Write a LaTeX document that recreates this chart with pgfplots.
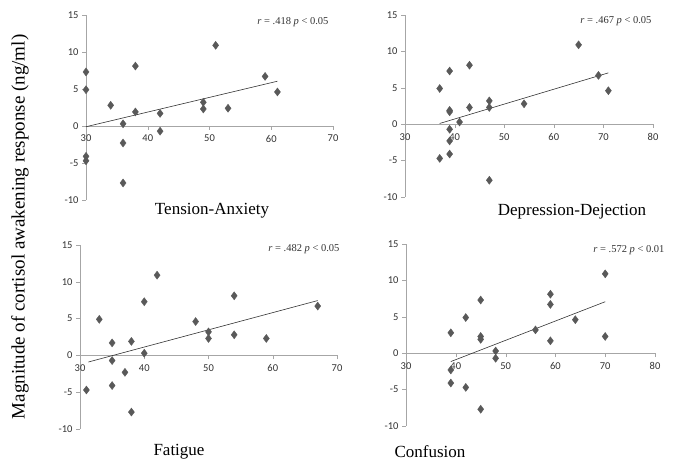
\documentclass[border=0pt]{standalone}
\usepackage{pgfplots}
\pgfplotsset{compat=1.18}
\usepackage{fontspec}
\setmainfont{Liberation Serif}
\newfontfamily\tickfont{Carlito}

\definecolor{mk}{HTML}{595959}
\definecolor{axl}{HTML}{A6A6A6}
\definecolor{tl}{HTML}{333333}

\pgfplotstableread{
x y
30 7.3
30 4.9
34 2.8
38 8.1
38 1.9
36 0.3
42 1.7
42 -0.7
49 3.2
49 2.3
51 10.9
53 2.4
59 6.7
61 4.6
36 -2.3
30 -4.1
30 -4.7
36 -7.7
}\tensiondata

\pgfplotstableread{
x y
37 4.9
39 7.3
43 8.1
39 1.9
39 1.7
41 0.3
43 2.3
47 3.2
47 2.3
54 2.8
65 10.9
69 6.7
71 4.6
39 -0.7
39 -2.3
39 -4.1
37 -4.7
47 -7.7
}\depressiondata

\pgfplotstableread{
x y
33 4.9
35 1.7
35 -0.7
35 -4.1
37 -2.3
38 1.9
38 -7.7
31 -4.7
40 7.3
40 0.3
42 10.9
48 4.6
50 3.2
50 2.3
54 8.1
54 2.8
59 2.3
67 6.7
}\fatiguedata

\pgfplotstableread{
x y
39 2.8
39 -2.3
39 -4.1
42 4.9
42 -4.7
45 7.3
45 2.3
45 1.9
45 -7.7
48 0.3
48 -0.7
56 3.2
59 8.1
59 6.7
59 1.7
64 4.6
70 10.9
70 2.3
}\confusiondata

\pgfplotsset{
 panel/.style={
  scale only axis,
  axis x line=middle, axis y line=left,
  axis line style={-, axl},
  hide obscured x ticks=false, hide obscured y ticks=false,
  ymin=-10, ymax=15, ytick={-10,-5,0,5,10,15},
  tick align=outside,
  major tick length=4pt,
  tick style={axl},
  every tick label/.append style={font=\tickfont\fontsize{10.5}{12}\selectfont, text=tl},
  xticklabel style={yshift=-1.5pt},
  /pgf/number format/assume math mode=true,
  clip=false,
  anchor=south west,
 },
 pts/.style={only marks, mark=diamond*, mark size=4pt, color=mk},
 fit/.style={no marks, tl, line width=0.6pt},
}

\begin{document}
\begin{tikzpicture}
\useasboundingbox (0pt,0pt) rectangle (685pt,473pt);

% Tension-Anxiety
\begin{axis}[panel, at={(86pt,273pt)}, width=247pt, height=185pt,
  xmin=30, xmax=70, xtick={30,40,50,60,70}]
  \addplot[pts] table {\tensiondata};
  \addplot[fit] coordinates {(30,-0.1) (61,6.05)};
\end{axis}

% Depression-Dejection
\begin{axis}[panel, at={(405pt,276pt)}, width=248pt, height=182pt,
  xmin=30, xmax=80, xtick={30,40,50,60,70,80}]
  \addplot[pts] table {\depressiondata};
  \addplot[fit] coordinates {(37,0.1) (71,7.05)};
\end{axis}

% Fatigue
\begin{axis}[panel, at={(80pt,44pt)}, width=257pt, height=184pt,
  xmin=30, xmax=70, xtick={30,40,50,60,70}]
  \addplot[pts] table {\fatiguedata};
  \addplot[fit] coordinates {(31.3,-0.9) (67,7.45)};
\end{axis}

% Confusion
\begin{axis}[panel, at={(406pt,47pt)}, width=249pt, height=182pt,
  xmin=30, xmax=80, xtick={30,40,50,60,70,80}]
  \addplot[pts] table {\confusiondata};
  \addplot[fit] coordinates {(39,-1.15) (70,7.07)};
\end{axis}

% panel titles
\node[font=\fontsize{17}{20}\selectfont] at (212pt,262pt) {Tension-Anxiety};
\node[font=\fontsize{17}{20}\selectfont] at (572pt,261pt) {Depression-Dejection};
\node[font=\fontsize{17}{20}\selectfont] at (179pt,21pt) {Fatigue};
\node[font=\fontsize{17}{20}\selectfont] at (430pt,21pt) {Confusion};

% correlations
\node[anchor=east, font=\fontsize{10.5}{12}\selectfont, text=tl] at (332pt,451pt) {\textit{r} = .418 \textit{p} < 0.05};
\node[anchor=east, font=\fontsize{10.5}{12}\selectfont, text=tl] at (655pt,452pt) {\textit{r} = .467 \textit{p} < 0.05};
\node[anchor=east, font=\fontsize{10.5}{12}\selectfont, text=tl] at (343pt,224pt) {\textit{r} = .482 \textit{p} < 0.05};
\node[anchor=east, font=\fontsize{10.5}{12}\selectfont, text=tl] at (668pt,223pt) {\textit{r} = .572 \textit{p} < 0.01};

% y label
\node[rotate=90, font=\fontsize{19}{22}\selectfont] at (20pt,246pt) {Magnitude of cortisol awakening response (ng/ml)};
\end{tikzpicture}
\end{document}
